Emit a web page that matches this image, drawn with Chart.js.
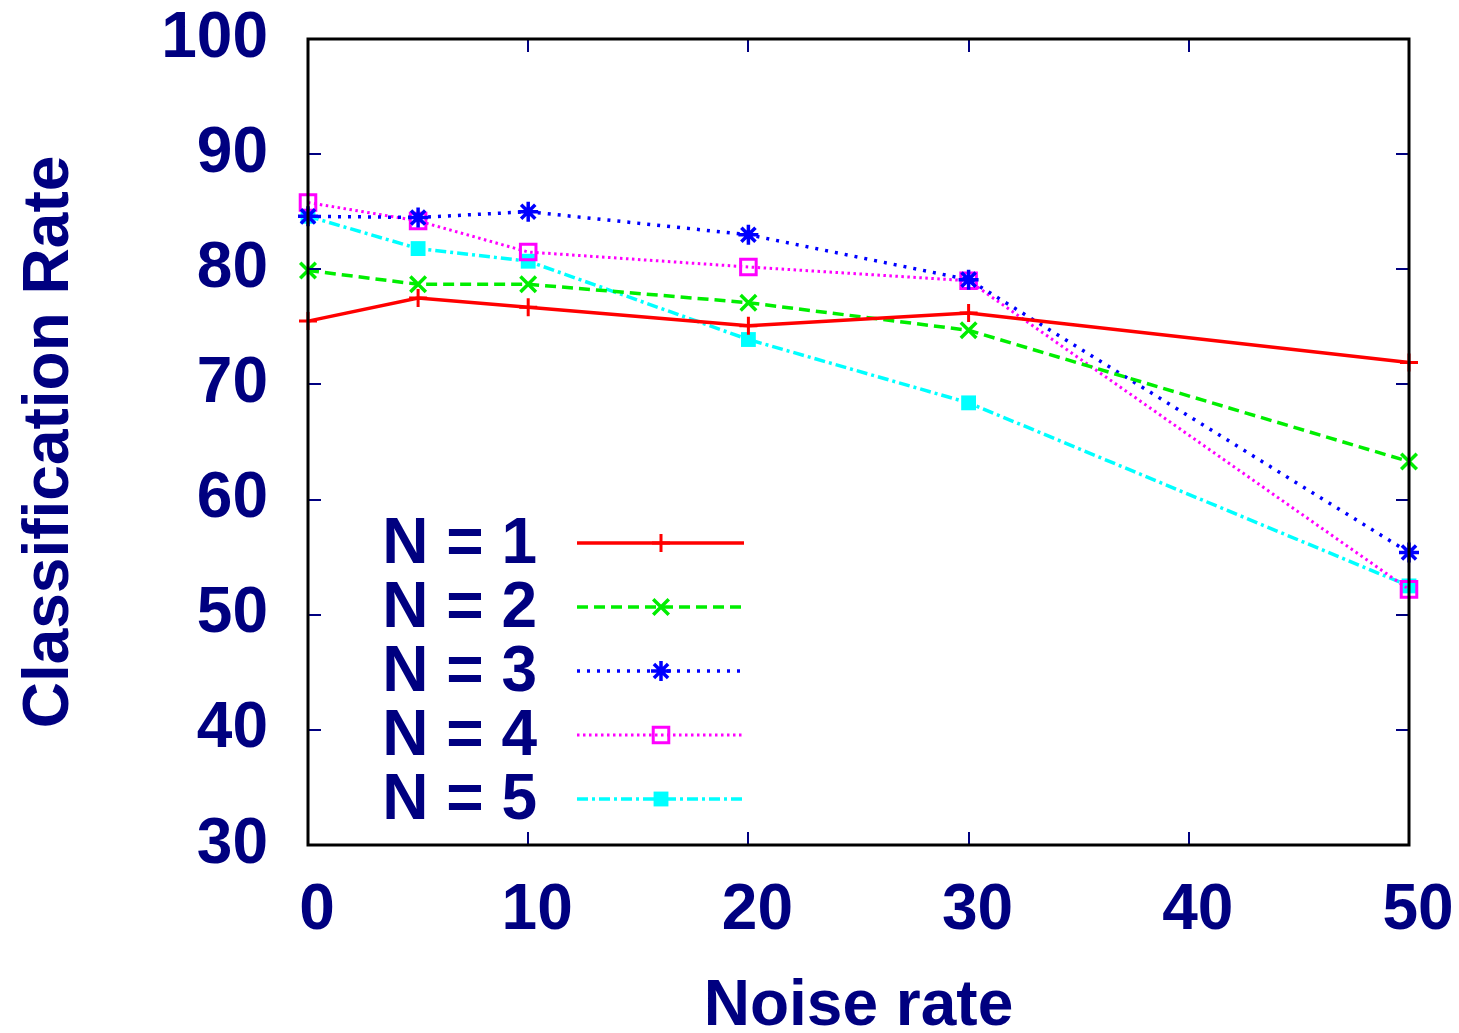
<!DOCTYPE html>
<html>
<head>
<meta charset="utf-8">
<script src="https://cdn.jsdelivr.net/npm/chart.js@4/dist/chart.umd.min.js"></script>
<style>
html,body{margin:0;padding:0;background:#fff;}
#wrap{width:1459px;height:1033px;position:relative;}
</style>
</head>
<body>
<div id="wrap"><canvas id="c" width="1459" height="1033"></canvas></div>
<script>
// ---- data ----
const noiseRates = [0, 5, 10, 20, 30, 50];
const seriesN1 = [75.5, 77.5, 76.7, 75.1, 76.2, 71.9];
const seriesN2 = [79.9, 78.7, 78.7, 77.1, 74.7, 63.3];
const seriesN3 = [84.6, 84.5, 85.0, 83.0, 79.1, 55.4];
const seriesN4 = [85.8, 84.2, 81.5, 80.2, 79.0, 52.2];
const seriesN5 = [84.6, 81.8, 80.7, 73.9, 68.4, 52.5];
const seriesLabels = ['N = 1', 'N = 2', 'N = 3', 'N = 4', 'N = 5'];
const xTicks = [0, 10, 20, 30, 40, 50];
const yTicks = [30, 40, 50, 60, 70, 80, 90, 100];
const xTitle = 'Noise rate';
const yTitle = 'Classification Rate';

const NAVY = '#000080';
const FONT = '"Liberation Sans", Arial, sans-serif';

function pts(vals){ return noiseRates.map((x,i)=>({x:x, y:vals[i]})); }

const datasets = [
  {label: seriesLabels[0], data: pts(seriesN1), borderColor:'#ff0000', borderWidth:3.5, borderDash:[],
   pointStyle:'cross', pointRadius:9, pointBorderWidth:3, pointBorderColor:'#ff0000', pointBackgroundColor:'#ff0000'},
  {label: seriesLabels[1], data: pts(seriesN2), borderColor:'#00ee00', borderWidth:3.5, borderDash:[11,6],
   pointStyle:'crossRot', pointRadius:11, pointBorderWidth:3.5, pointBorderColor:'#00ee00', pointBackgroundColor:'#00ee00'},
  {label: seriesLabels[2], data: pts(seriesN3), borderColor:'#0000ff', borderWidth:3.5, borderDash:[3,7],
   pointStyle:'star', pointRadius:10, pointBorderWidth:3.5, pointBorderColor:'#0000ff', pointBackgroundColor:'#0000ff'},
  {label: seriesLabels[3], data: pts(seriesN4), borderColor:'#ff00ff', borderWidth:3, borderDash:[2.5,3.5],
   pointStyle:'rect', pointRadius:11, pointBorderWidth:3, pointBorderColor:'#ff00ff', pointBackgroundColor:'rgba(0,0,0,0)'},
  {label: seriesLabels[4], data: pts(seriesN5), borderColor:'#00ffff', borderWidth:3.5, borderDash:[11,4,3,4],
   pointStyle:'rect', pointRadius:10.5, pointBorderWidth:0, pointBorderColor:'#00ffff', pointBackgroundColor:'#00ffff'}
];
datasets.forEach(d=>{ d.fill=false; d.tension=0; d.clip=false; d.pointHoverRadius=d.pointRadius; });

const framePlugin = {
  id:'frame',
  afterDatasetsDraw(chart){
    const {ctx, chartArea:a, scales} = chart;
    ctx.save();
    ctx.setLineDash([]);
    ctx.strokeStyle = NAVY; ctx.lineWidth = 2;
    const tl = 13;
    ctx.beginPath();
    scales.x.ticks.forEach(t=>{
      const px = Math.round(scales.x.getPixelForValue(t.value));
      ctx.moveTo(px, a.bottom); ctx.lineTo(px, a.bottom - tl);
      ctx.moveTo(px, a.top); ctx.lineTo(px, a.top + tl);
    });
    scales.y.ticks.forEach(t=>{
      const py = Math.round(scales.y.getPixelForValue(t.value));
      ctx.moveTo(a.left, py); ctx.lineTo(a.left + tl, py);
      ctx.moveTo(a.right, py); ctx.lineTo(a.right - tl, py);
    });
    ctx.stroke();
    ctx.strokeStyle = '#000000'; ctx.lineWidth = 3;
    ctx.strokeRect(a.left, a.top, a.right - a.left, a.bottom - a.top);
    ctx.restore();
  }
};

const legendPlugin = {
  id:'gpLegend',
  afterDraw(chart){
    const ctx = chart.ctx;
    const textRight = 537, lineX0 = 577, lineX1 = 744, markX = 661;
    const y0 = 543, dy = 64;
    ctx.save();
    chart.data.datasets.forEach((d,i)=>{
      const y = y0 + i*dy;
      ctx.font = 'bold 64px ' + FONT;
      ctx.fillStyle = NAVY;
      ctx.textAlign = 'right';
      ctx.textBaseline = 'middle';
      ctx.fillText(d.label, textRight, y + 2);
      ctx.strokeStyle = d.borderColor;
      ctx.lineWidth = d.borderWidth;
      ctx.setLineDash(d.borderDash || []);
      ctx.beginPath(); ctx.moveTo(lineX0, y); ctx.lineTo(lineX1, y); ctx.stroke();
      ctx.setLineDash([]);
      ctx.fillStyle = d.pointBackgroundColor;
      ctx.strokeStyle = d.pointBorderColor;
      ctx.lineWidth = d.pointBorderWidth;
      Chart.helpers.drawPoint(ctx, {pointStyle:d.pointStyle, radius:d.pointRadius, rotation:0, borderWidth:d.pointBorderWidth}, markX, y);
    });
    ctx.restore();
  }
};

function zeroPad(s){ s.paddingTop = 0; s.paddingBottom = 0; s.paddingLeft = 0; s.paddingRight = 0; }

new Chart(document.getElementById('c'), {
  type:'line',
  data:{datasets: datasets},
  options:{
    responsive:false,
    animation:false,
    events:[],
    layout:{padding:{left:0, top:39, right:50, bottom:0}},
    plugins:{legend:{display:false}, tooltip:{enabled:false}},
    scales:{
      x:{
        type:'linear', min:0, max:50,
        afterBuildTicks(s){ s.ticks = xTicks.map(v=>({value:v})); },
        afterFit(s){ s.height = 188; zeroPad(s); },
        grid:{display:true, drawOnChartArea:false, drawTicks:false},
        border:{display:false},
        ticks:{color:NAVY, padding:28, labelOffset:9, maxRotation:0, autoSkip:false,
               font:{family:FONT, size:64, weight:'bold'}},
        title:{display:true, text:xTitle, color:NAVY, padding:{top:0,bottom:0},
               font:{family:FONT, size:64, weight:'bold', lineHeight:0.8}}
      },
      y:{
        type:'linear', min:30, max:100,
        afterBuildTicks(s){ s.ticks = yTicks.map(v=>({value:v})); },
        afterFit(s){ s.width = 308; zeroPad(s); },
        grid:{display:true, drawOnChartArea:false, drawTicks:false},
        border:{display:false},
        ticks:{color:NAVY, padding:40, autoSkip:false,
               font:{family:FONT, size:64, weight:'bold'}},
        title:{display:true, text:yTitle, color:NAVY, padding:{top:12,bottom:0},
               font:{family:FONT, size:64, weight:'bold'}}
      }
    }
  },
  plugins:[framePlugin, legendPlugin]
});
</script>
</body>
</html>
